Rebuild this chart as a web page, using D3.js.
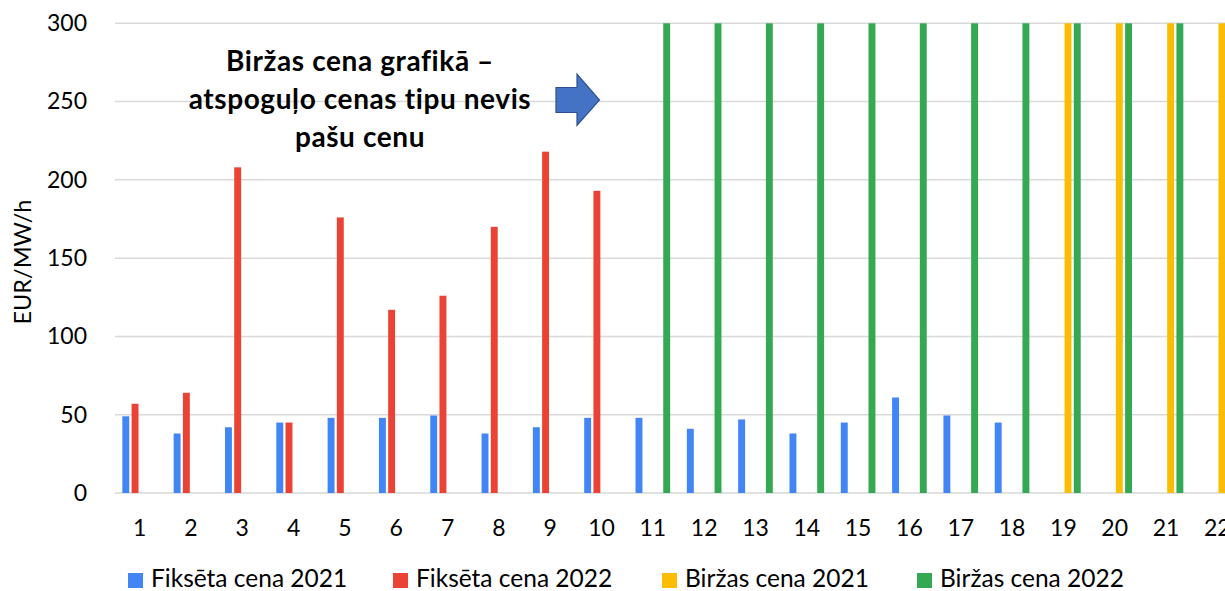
<!DOCTYPE html>
<html>
<head>
<meta charset="utf-8">
<script src="https://cdn.jsdelivr.net/npm/d3@7"></script>
<style>
  html, body { margin: 0; padding: 0; background: #fff; }
  svg { display: block; font-family: Lato, "Open Sans", sans-serif; }
</style>
</head>
<body>
<svg id="chart" width="1225" height="591"></svg>
<script>
// kategorijas (x ass)
const categories = ["1","2","3","4","5","6","7","8","9","10","11","12","13","14","15","16","17","18","19","20","21","22"];
const yTicks = [0, 50, 100, 150, 200, 250, 300];

// sērijas
const fix2021 = [49, 38, 42, 45, 48, 48, 49.5, 38, 42, 48, 48, 41, 47, 38, 45, 61, 49.5, 45, 0, 0, 0, 0];
const fix2022 = [57, 64, 208, 45, 176, 117, 126, 170, 218, 193, 0, 0, 0, 0, 0, 0, 0, 0, 0, 0, 0, 0];
const birz2021 = [0, 0, 0, 0, 0, 0, 0, 0, 0, 0, 0, 0, 0, 0, 0, 0, 0, 0, 300, 300, 300, 300];
const birz2022 = [0, 0, 0, 0, 0, 0, 0, 0, 0, 0, 300, 300, 300, 300, 300, 300, 300, 300, 300, 300, 300, 300];

const seriesNames = ["Fiksēta cena 2021", "Fiksēta cena 2022", "Biržas cena 2021", "Biržas cena 2022"];
const seriesValues = [fix2021, fix2022, birz2021, birz2022];
const colors = ["#4285F4", "#EA4335", "#FBBC04", "#34A853"];

const noteLines = ["Biržas cena grafikā –", "atspoguļo cenas tipu nevis", "pašu cenu"];

const svg = d3.select("#chart");

const x0 = d3.scaleBand()
  .domain(categories)
  .range([114, 1243])
  .paddingInner(0.28)
  .paddingOuter(0.14);

const x1 = d3.scaleBand()
  .domain(d3.range(seriesNames.length))
  .range([0, x0.bandwidth()])
  .paddingInner(0.25)
  .paddingOuter(0.125);

const y = d3.scaleLinear()
  .domain([0, 300])
  .range([493, 23.3]);

// režģis
svg.append("g")
  .selectAll("line")
  .data(yTicks)
  .join("line")
  .attr("x1", 115)
  .attr("x2", 1225)
  .attr("y1", d => y(d))
  .attr("y2", d => y(d))
  .attr("stroke", "#d9d9d9")
  .attr("stroke-width", 1.5);

// y ass
const yAxis = svg.append("g")
  .attr("transform", "translate(87,0)")
  .call(d3.axisLeft(y).tickValues(yTicks).tickSize(0).tickPadding(0));
yAxis.select(".domain").remove();
yAxis.selectAll("text")
  .attr("font-size", 23)
  .attr("font-family", "Lato, sans-serif")
  .attr("fill", "#000");

// x ass
const xAxis = svg.append("g")
  .attr("transform", "translate(0,493)")
  .call(d3.axisBottom(x0).tickSize(0).tickPadding(27));
xAxis.select(".domain").remove();
xAxis.selectAll("text")
  .attr("font-size", 23)
  .attr("font-family", "Lato, sans-serif")
  .attr("fill", "#000");

// stabiņi
const rows = [];
categories.forEach((c, i) => {
  seriesValues.forEach((vals, s) => {
    if (vals[i] > 0) rows.push({ cat: c, s: s, v: vals[i] });
  });
});

svg.append("g")
  .selectAll("rect")
  .data(rows)
  .join("rect")
  .attr("x", d => x0(d.cat) + x1(d.s))
  .attr("y", d => y(d.v))
  .attr("width", x1.bandwidth())
  .attr("height", d => y(0) - y(d.v))
  .attr("fill", d => colors[d.s]);

// y ass nosaukums
svg.append("text")
  .attr("transform", "translate(31,262) rotate(-90)")
  .attr("text-anchor", "middle")
  .attr("font-size", 23.5)
  .attr("fill", "#000")
  .text("EUR/MW/h");

// piezīme
svg.append("g")
  .selectAll("text")
  .data(noteLines)
  .join("text")
  .attr("x", 360)
  .attr("y", (d, i) => 71 + i * 38)
  .attr("text-anchor", "middle")
  .attr("font-size", 28)
  .attr("font-weight", "bold")
  .attr("letter-spacing", 0.6)
  .attr("fill", "#000")
  .text(d => d);

// bulta
svg.append("path")
  .attr("d", "M556,87.5 L577,87.5 L577,74 L599.5,100 L577,125.5 L577,112.5 L556,112.5 Z")
  .attr("fill", "#4472C4")
  .attr("stroke", "#2F528F")
  .attr("stroke-width", 1.2);

// leģenda
const legendX = [128, 393, 662, 917];
const legend = svg.append("g")
  .selectAll("g")
  .data(seriesNames)
  .join("g")
  .attr("transform", (d, i) => `translate(${legendX[i]},573)`);
legend.append("rect")
  .attr("width", 15)
  .attr("height", 15)
  .attr("fill", (d, i) => colors[i]);
legend.append("text")
  .attr("x", 23)
  .attr("y", 14)
  .attr("font-size", 24.5)
  .attr("fill", "#000")
  .text(d => d);
</script>
</body>
</html>
